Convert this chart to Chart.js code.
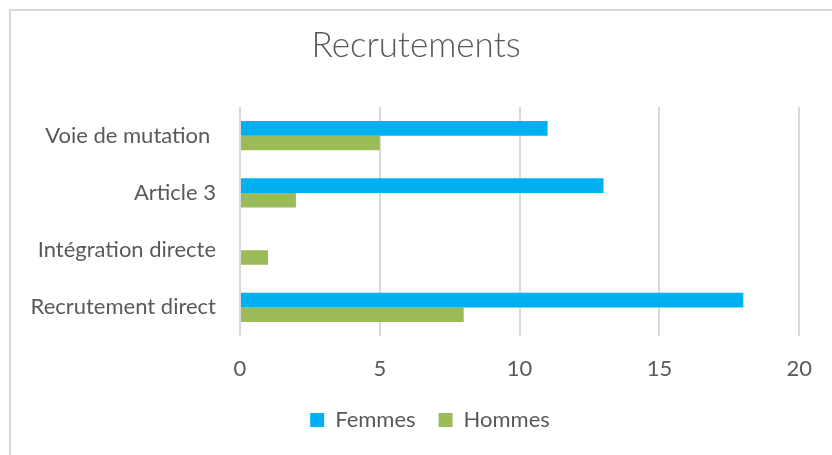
<!DOCTYPE html>
<html>
<head>
<meta charset="utf-8">
<script src="https://cdn.jsdelivr.net/npm/chart.js@4"></script>
<style>
  html, body { margin: 0; padding: 0; background: #fff; overflow: hidden; }
  .frame { position: absolute; left: 9px; top: 9px; width: 900px; height: 500px; border: 2px solid #d9d9d9; }
  #chart { position: absolute; left: 0; top: 0; }
</style>
</head>
<body>
<div class="frame"></div>
<canvas id="chart" width="832" height="455"></canvas>
<script>
const categories = ['Voie de mutation ', 'Article 3', 'Intégration directe', 'Recrutement direct'];
const femmes = [11, 13, 0, 18];
const hommes = [5, 2, 1, 8];
const xTicks = [0, 5, 10, 15, 20];

Chart.defaults.font.family = 'Lato, "Open Sans", sans-serif';
Chart.defaults.color = '#595959';

// nudge the legend a bit to the right, like the original
const shiftLegend = {
    id: 'shiftLegend',
    afterLayout(chart) {
        chart.legend.left += 14;
        chart.legend.right += 14;
    }
};

const data = {
    labels: categories,
    datasets: [{
        label: 'Femmes',
        backgroundColor: '#00b0f0',
        data: femmes,
    }, {
        label: 'Hommes',
        backgroundColor: '#9bbb59',
        data: hommes,
    }]
};

const config = {
    type: 'bar',
    data: data,
    plugins: [shiftLegend],
    options: {
        indexAxis: 'y',
        responsive: false,
        animation: false,
        categoryPercentage: 0.514,
        barPercentage: 1.0,
        layout: {
            padding: { top: 10, bottom: 14, left: 30, right: 30 }
        },
        scales: {
            x: {
                min: 0,
                max: 20,
                afterBuildTicks: (axis) => {
                    axis.ticks = xTicks.map(v => ({ value: v }));
                },
                grid: { color: '#d9d9d9', lineWidth: 2, drawTicks: false },
                border: { display: false },
                ticks: { padding: 20, font: { size: 22 }, color: '#595959' },
                afterFit: (axis) => { axis.height = 50; }
            },
            y: {
                grid: { display: false, drawTicks: false },
                border: { display: false },
                ticks: { padding: 24, font: { size: 22 }, color: '#595959' },
                afterFit: (axis) => { axis.width = 210; }
            }
        },
        plugins: {
            title: {
                display: true,
                text: 'Recrutements',
                color: '#595959',
                font: { size: 35, weight: '300' },
                padding: { top: 15, bottom: 40 }
            },
            legend: {
                position: 'bottom',
                labels: {
                    boxWidth: 14,
                    boxHeight: 14,
                    padding: 23,
                    font: { size: 22 },
                    color: '#595959'
                }
            },
            tooltip: { enabled: false }
        }
    }
};

const myChart = new Chart(
    document.getElementById('chart'),
    config
);
</script>
</body>
</html>
